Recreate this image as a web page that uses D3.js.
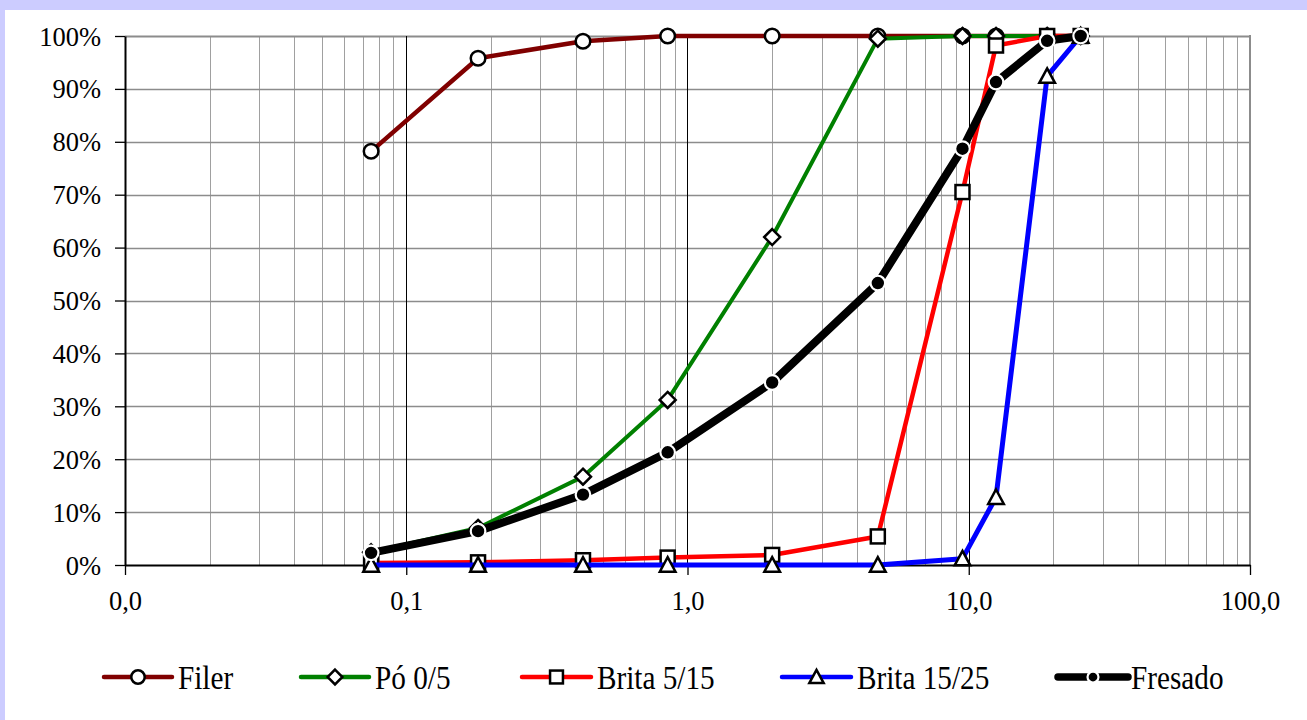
<!DOCTYPE html>
<html>
<head>
<meta charset="utf-8">
<script src="https://cdn.jsdelivr.net/npm/d3@7"></script>
<style>
  html, body { margin: 0; padding: 0; background: #ccccff; }
  svg { display: block; }
  svg text { font-family: "Liberation Serif", "DejaVu Serif", "Times New Roman", Times, serif; fill: #000; }
</style>
</head>
<body>
<svg id="chart" width="1307" height="720"></svg>
<script>
// Sieve openings (mm) and cumulative percent passing for each material
const sieves = [0.075, 0.18, 0.425, 0.85, 2.0, 4.75, 9.5, 12.5, 19.0, 25.0];
const filer     = [78.2, 95.8, 99.0, 100, 100, 100, 100, 100, 100, 100];
const po05      = [2.4, 7.0, 16.7, 31.2, 62.0, 99.5, 100, 100, 100, 100];
const brita515  = [0.4, 0.5, 0.9, 1.4, 1.9, 5.4, 70.5, 98.2, 100, 100];
const brita1525 = [0, 0, 0, 0, 0, 0, 1.2, 12.8, 92.4, 100];
const fresado   = [2.3, 6.4, 13.3, 21.3, 34.5, 53.3, 78.7, 91.3, 99.1, 100];

const seriesNames = ["Filer", "Pó 0/5", "Brita 5/15", "Brita 15/25", "Fresado"];
const xTickValues = [0.01, 0.1, 1, 10, 100];
const yTickValues = [0, 10, 20, 30, 40, 50, 60, 70, 80, 90, 100];

const series = [
  { name: seriesNames[0], values: filer,     color: "#800000", width: 4.5, marker: "circle" },
  { name: seriesNames[1], values: po05,      color: "#008000", width: 4,   marker: "diamond" },
  { name: seriesNames[2], values: brita515,  color: "#ff0000", width: 4.5, marker: "square" },
  { name: seriesNames[3], values: brita1525, color: "#0000ff", width: 5,   marker: "triangle" },
  { name: seriesNames[4], values: fresado,   color: "#000000", width: 8,   marker: "dot" }
];

const FONT = "'Liberation Serif', 'DejaVu Serif', 'Times New Roman', Times, serif";
const svg = d3.select("#chart");

// white chart area inside the lavender frame
svg.append("rect").attr("x", 5).attr("y", 10).attr("width", 1302).attr("height", 710).attr("fill", "#fff");

const plotLeft = 125, plotRight = 1250, plotTop = 36, plotBottom = 565;
const x = d3.scaleLog().domain([0.01, 100]).range([plotLeft, plotRight]);
const y = d3.scaleLinear().domain([0, 100]).range([plotBottom, plotTop]);

const grid = svg.append("g");

// minor vertical gridlines (2..9 in each decade)
const decadeSet = new Set(xTickValues.map(v => +v.toPrecision(3)));
grid.selectAll("line.minor")
  .data(x.ticks().filter(t => !decadeSet.has(+t.toPrecision(3))))
  .join("line")
  .attr("x1", d => Math.round(x(d)) + 0.5).attr("x2", d => Math.round(x(d)) + 0.5)
  .attr("y1", plotTop).attr("y2", plotBottom)
  .attr("stroke", "#a0a0a0").attr("stroke-width", 1);

// horizontal gridlines
grid.selectAll("line.h")
  .data(yTickValues.filter(v => v > 0))
  .join("line")
  .attr("x1", plotLeft).attr("x2", plotRight)
  .attr("y1", d => Math.round(y(d)) + 0.5).attr("y2", d => Math.round(y(d)) + 0.5)
  .attr("stroke", "#8c8c8c").attr("stroke-width", d => d === 100 ? 2 : 1.3);

// decade lines
grid.selectAll("line.dec")
  .data(xTickValues.slice(1, -1))
  .join("line")
  .attr("x1", d => Math.round(x(d)) + 0.5).attr("x2", d => Math.round(x(d)) + 0.5)
  .attr("y1", plotTop).attr("y2", plotBottom)
  .attr("stroke", "#000").attr("stroke-width", 1);

// right border of plot area
grid.append("line")
  .attr("x1", plotRight).attr("x2", plotRight).attr("y1", plotTop - 1).attr("y2", plotBottom)
  .attr("stroke", "#8c8c8c").attr("stroke-width", 2);

// axes
const fmtX = d => d3.format(".1f")(d).replace(".", ",");
const xAxis = d3.axisBottom(x).tickValues(xTickValues).tickFormat(fmtX).tickSizeInner(10).tickSizeOuter(0).tickPadding(16);
const yAxis = d3.axisLeft(y).tickValues(yTickValues).tickFormat(d => d + "%").tickSizeInner(10).tickSizeOuter(0).tickPadding(14);

const gx = svg.append("g").attr("transform", `translate(0,${plotBottom})`).call(xAxis);
const gy = svg.append("g").attr("transform", `translate(${plotLeft},0)`).call(yAxis);
[gx, gy].forEach(g => {
  g.attr("font-family", FONT).attr("font-size", 26);
  g.select(".domain").attr("stroke", "#000").attr("stroke-width", 2);
  g.selectAll(".tick line").attr("stroke", "#000").attr("stroke-width", 1.3);
  g.selectAll(".tick text").style("font-family", FONT).style("font-size", "26.5px").attr("fill", "#000");
});
gy.selectAll(".tick text").attr("dy", "0.34em");
gx.selectAll(".tick text").attr("dy", "0.71em");

// marker drawing
function drawMarker(sel, kind, size) {
  const s = size || 1;
  if (kind === "circle") {
    sel.append("circle").attr("r", 7.3 * s).attr("fill", "#fff").attr("stroke", "#000").attr("stroke-width", 2.5);
  } else if (kind === "diamond") {
    const a = 8 * s;
    sel.append("path").attr("d", `M0,${-a}L${a},0L0,${a}L${-a},0Z`).attr("fill", "#fff").attr("stroke", "#000").attr("stroke-width", 2.5);
  } else if (kind === "square") {
    const a = 7 * s;
    sel.append("rect").attr("x", -a).attr("y", -a).attr("width", 2 * a).attr("height", 2 * a).attr("fill", "#fff").attr("stroke", "#000").attr("stroke-width", 2.5);
  } else if (kind === "triangle") {
    const a = 7.8 * s;
    sel.append("path").attr("d", `M0,${-a}L${a},${a * 0.85}L${-a},${a * 0.85}Z`).attr("fill", "#fff").attr("stroke", "#000").attr("stroke-width", 2.5).attr("stroke-linejoin", "miter");
  } else if (kind === "dot") {
    sel.append("circle").attr("r", 7.3 * s).attr("fill", "#000").attr("stroke", "#fff").attr("stroke-width", 2.2);
  }
}

const line = d3.line().x(d => x(d[0])).y(d => y(d[1]));

series.forEach(s => {
  const pts = sieves.map((v, i) => [v, s.values[i]]);
  const g = svg.append("g");
  g.append("path").attr("d", line(pts)).attr("fill", "none")
    .attr("stroke", s.color).attr("stroke-width", s.width)
    .attr("stroke-linejoin", "round").attr("stroke-linecap", "round");
  pts.forEach(p => {
    const m = g.append("g").attr("transform", `translate(${x(p[0])},${y(p[1])})`);
    drawMarker(m, s.marker);
  });
});

// legend
const legendY = 677;
const legendItems = [
  { x0: 104, x1: 172, tx: 178 },
  { x0: 301, x1: 369, tx: 375 },
  { x0: 522, x1: 591, tx: 597 },
  { x0: 782, x1: 851, tx: 857 },
  { x0: 1058, x1: 1128, tx: 1131 }
];
const legend = svg.append("g");
series.forEach((s, i) => {
  const it = legendItems[i];
  const g = legend.append("g");
  g.append("line").attr("x1", it.x0).attr("x2", it.x1).attr("y1", legendY).attr("y2", legendY)
    .attr("stroke", s.color).attr("stroke-width", s.marker === "dot" ? 7.5 : 4.5).attr("stroke-linecap", "round");
  const m = g.append("g").attr("transform", `translate(${(it.x0 + it.x1) / 2},${legendY})`);
  drawMarker(m, s.marker, s.marker === "dot" ? 0.75 : 0.92);
  g.append("text").attr("transform", `translate(${it.tx},${legendY + 12}) scale(0.86,1)`)
    .style("font-family", FONT).style("font-size", "34px").text(s.name);
});
</script>
</body>
</html>
